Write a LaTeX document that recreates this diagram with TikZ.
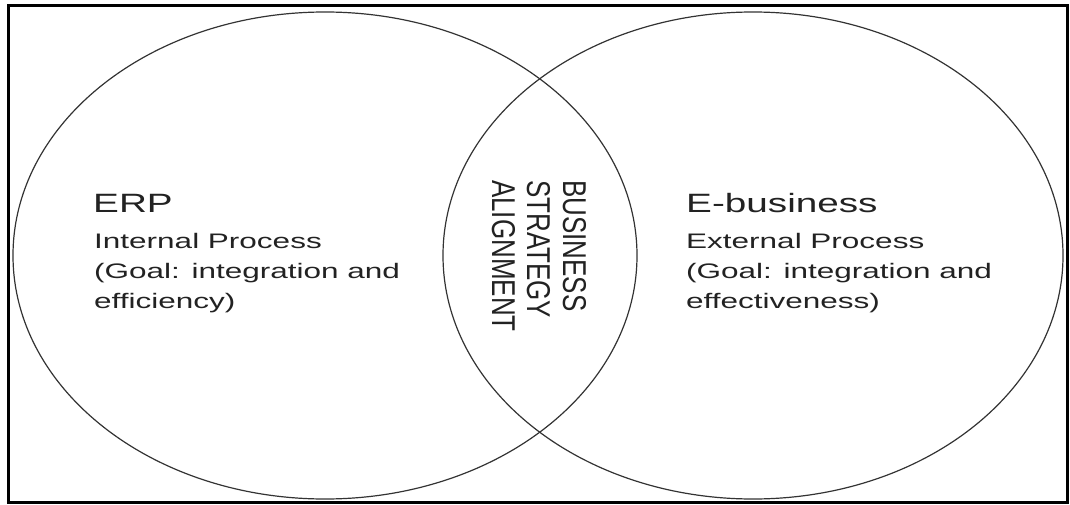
\documentclass[tikz,border=0pt]{standalone}
\usepackage{fontspec}
\setmainfont{Liberation Sans}
\usepackage{graphicx}
\definecolor{ink}{HTML}{222222}
\definecolor{edge}{HTML}{333333}
\tikzset{
  frame/.style={draw=black, line width=3pt},
  set/.style={draw=edge, line width=1.2pt},
  title/.style={anchor=base west, inner sep=0pt, text=ink, font=\fontsize{26.5}{30}\selectfont},
  body/.style={anchor=base west, inner sep=0pt, text=ink, font=\fontsize{21}{30}\selectfont},
  vert/.style={anchor=base west, inner sep=0pt, rotate=-90, text=ink, font=\fontsize{22}{25}\selectfont}
}
\begin{document}
\begin{tikzpicture}[x=1pt,y=-1pt]
\useasboundingbox (0,0) rectangle (1070,505);
\draw[frame] (8,6) rectangle (1067,502);
\draw[set] (325,255.5) ellipse [x radius=312, y radius=243.5];
\draw[set] (753,255.5) ellipse [x radius=310, y radius=243.5];
\node[title] (erp) at (93,212) {\scalebox{1.46}[1]{ERP}};
\node[body] (erpbody) at (94,248) {\scalebox{1.5}[1]{\begin{tabular}[t]{@{}l@{}}Internal Process\\(Goal: integration and\\efficiency)\end{tabular}}};
\node[title] (eb) at (686,212) {\scalebox{1.46}[1]{E-business}};
\node[body] (ebbody) at (686,248) {\scalebox{1.5}[1]{\begin{tabular}[t]{@{}l@{}}External Process\\(Goal: integration and\\effectiveness)\end{tabular}}};
\node[vert] (v1) at (563,180) {\scalebox{1.18}[1.5]{BUSINESS}};
\node[vert] (v2) at (527,180) {\scalebox{1.18}[1.5]{STRATEGY}};
\node[vert] (v3) at (492,180) {\scalebox{1.18}[1.5]{ALIGNMENT}};
\end{tikzpicture}
\end{document}
